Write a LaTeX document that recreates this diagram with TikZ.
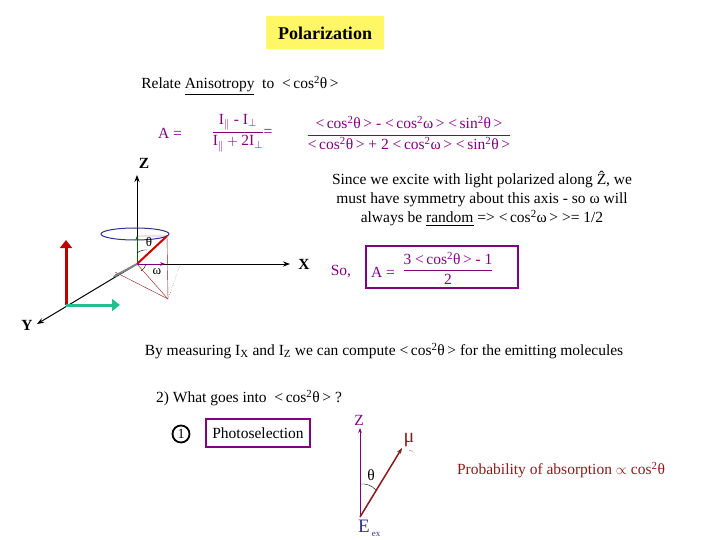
\documentclass[tikz,border=0pt]{standalone}
\usepackage{amsmath,amssymb}
\usepackage{fontspec}
\setmainfont{Liberation Serif}
\usetikzlibrary{arrows.meta}
\definecolor{pur}{HTML}{800080}
\definecolor{dred}{HTML}{8B1A1A}
\definecolor{navy}{HTML}{2E3192}
\definecolor{teal2}{HTML}{20C090}
\newcommand{\csq}[1]{<\,cos\textsuperscript{2}#1\,>}
\newcommand{\ssq}[1]{<\,sin\textsuperscript{2}#1\,>}
\begin{document}
\begin{tikzpicture}[x=1pt,y=-1pt,font=\fontsize{15.5}{18}\selectfont,
  pbox/.style={draw=pur,line width=1.5pt},
  axlab/.style={font=\bfseries\fontsize{15.5}{18}\selectfont},
  sm/.style={font=\fontsize{13}{15}\selectfont,inner sep=1pt},
  ax/.style={-{Stealth[length=7pt]},line width=1pt}]
\useasboundingbox (0,0) rectangle (720,540);
\node[fill=yellow!60,inner sep=5pt,minimum width=118pt,minimum height=33pt,font=\bfseries\fontsize{18}{20}\selectfont] (title) at (325,33) {Polarization};
\node (relate) at (240,86) {Relate \underline{Anisotropy} \ to \ \csq{θ}};
\node[text=pur] (aeq) at (170,133) {A =};
\node[text=pur] (frac1) at (238,133) {$\dfrac{\text{I}_{\parallel}\text{ - I}_{\perp}}{\text{I}_{\parallel}+\text{2I}_{\perp}}$};
\node[text=pur] (eq2) at (268,133) {=};
\node[text=pur] (frac2) at (409,133) {$\dfrac{\text{\csq{θ} - \csq{ω} \ssq{θ}}}{\text{\csq{θ} + 2 \csq{ω} \ssq{θ}}}$};
\node[axlab] (Z) at (144,163) {Z};
\node[axlab] (X) at (304,264) {X};
\node[axlab] (Y) at (27,325) {Y};
\coordinate (O) at (137,264);
\coordinate (zt) at (137,175);
\coordinate (xt) at (290,264);
\coordinate (yt) at (37,324);
\draw[ax] (O) -- (zt);
\draw[ax] (O) -- (xt);
\draw[ax] (O) -- (yt);
\coordinate (mu) at (167,236);
\coordinate (zp) at (137,236);
\coordinate (foot) at (168,299);
\coordinate (a1) at (115,272);
\coordinate (a2) at (180,265);
\draw[dred,thin] (zp) -- (mu) -- (foot) -- (a1);
\draw[dred,thin] (O) -- (foot);
\draw[dred,thin,dotted] (a2) -- (foot);
\draw[navy,line width=1pt] (135,234) ellipse (34 and 6);
\draw[green!40!black,line width=1pt,-{Stealth[length=4pt]}] (O) -- (zp);
\draw[red!80!black,line width=2pt] (O) -- (mu);
\draw[violet,line width=1pt,-{Stealth[length=5pt]}] (O) -- (165,264);
\draw[gray,line width=2pt,-{Stealth[length=5pt]}] (O) -- (113,277);
\node[sm] (th) at (149,242) {θ};
\node[sm] (om) at (157,272) {ω};
\draw[thin] (137,253) to[bend left=20] (147,250);
\draw[thin] (146,264) to[bend left=20] (141,271);
\coordinate (rb) at (66,305);
\draw[red!75!black,line width=3pt,-{Triangle[length=8pt,width=12pt]}] (rb) -- (66,240);
\draw[teal2,line width=3pt,-{Triangle[length=8pt,width=12pt]}] (rb) -- (120,305);
\node[align=center,font=\fontsize{15.5}{19}\selectfont] (since) at (482,199) {Since we excite with light polarized along \^{Z}, we\\must have symmetry about this axis - so ω will\\always be \underline{random} => \csq{ω} >= 1/2};
\node[text=pur] (so) at (341,272) {So,};
\node[draw=pur,line width=1.5pt,inner sep=0pt,minimum width=152pt,minimum height=42pt] (abox) at (442,267) {};
\node[text=pur] at (383,272) {A =};
\node[text=pur] (frac3) at (448,268) {$\dfrac{\text{3 \csq{θ} - 1}}{\text{2}}$};
\node (meas) at (384,351) {By measuring I\textsubscript{X} and I\textsubscript{Z} we can compute \csq{θ} for the emitting molecules};
\node (q2) at (249,398) {2) What goes into \ \csq{θ} ?};
\node[draw,circle,line width=1.8pt,inner sep=1pt,minimum size=17pt,font=\fontsize{14}{14}\selectfont] (one) at (181,434) {1};
\node[pbox,inner sep=4pt,minimum width=104pt,minimum height=28pt] (photo) at (258,433) {Photoselection};
\coordinate (E) at (360,517);
\draw[violet,line width=1pt,-{Stealth[length=5pt]}] (E) -- (360,428);
\node[text=violet] (z2) at (359,420) {Z};
\draw[dred,line width=1.5pt,-{Stealth[length=6pt]}] (E) -- (402,448);
\node[text=dred,font=\fontsize{20}{20}\selectfont] (mu2) at (409,440) {μ};
\node[text=dred,inner sep=0pt] at (411,452) {\tiny$\sim$};
\node (th2) at (371,475) {θ};
\draw[thin] (360,484) to[bend left=25] (376,490);
\node[text=navy,font=\fontsize{19}{19}\selectfont,inner sep=0pt] (Ex) at (364,526) {E};
\node[text=navy,font=\small,inner sep=0pt] at (376,534) {ex};
\node[text=dred] (prob) at (561,470) {Probability of absorption $\propto$ cos\textsuperscript{2}θ};
\end{tikzpicture}
\end{document}
